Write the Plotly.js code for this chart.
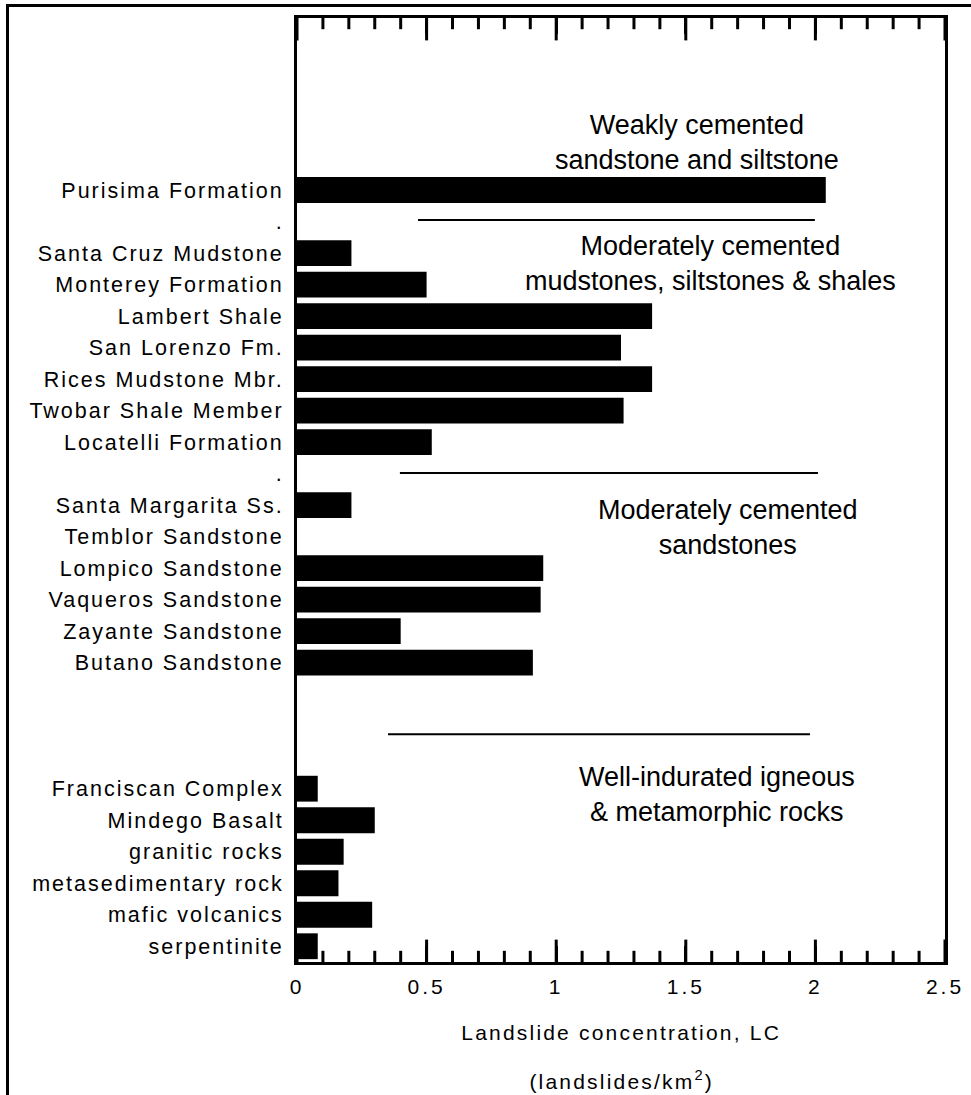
<!DOCTYPE html>
<html>
<head>
<meta charset="utf-8">
<script src="https://cdn.plot.ly/plotly-3.0.1.min.js"></script>
<style>
  html, body { margin: 0; padding: 0; background: #fff; overflow: hidden; }
  #wrap { position: relative; width: 971px; height: 1095px; }
  #frame { position: absolute; left: 6px; top: 4px; width: 1000px; height: 1200px;
           border-top: 3px solid #000; border-left: 3px solid #000; pointer-events: none; z-index: 5; }
  #chart { position: absolute; left: 0; top: 0; width: 971px; height: 1095px; }
  .ytick text { letter-spacing: 2px; }
  .xtick text { letter-spacing: 3px; }
  g.annotation[data-index="4"] text, g.annotation[data-index="5"] text { letter-spacing: 2.2px; }
</style>
</head>
<body>
<div id="wrap">
  <div id="frame"></div>
  <div id="chart"></div>
</div>
<script>
// Rock units, top to bottom (spacer rows included as in the original figure)
const categories = [
  "Purisima Formation",
  ".",
  "Santa Cruz Mudstone",
  "Monterey Formation",
  "Lambert Shale",
  "San Lorenzo Fm.",
  "Rices Mudstone Mbr.",
  "Twobar Shale Member",
  "Locatelli Formation",
  ".",
  "Santa Margarita Ss.",
  "Temblor Sandstone",
  "Lompico Sandstone",
  "Vaqueros Sandstone",
  "Zayante Sandstone",
  "Butano Sandstone",
  "",
  "",
  "",
  "Franciscan Complex",
  "Mindego Basalt",
  "granitic rocks",
  "metasedimentary rock",
  "mafic volcanics",
  "serpentinite"
];

// Landslide concentration, LC (landslides/km2)
const lcValues = [
  2.04,
  null,
  0.21,
  0.50,
  1.37,
  1.25,
  1.37,
  1.26,
  0.52,
  null,
  0.21,
  0,
  0.95,
  0.94,
  0.40,
  0.91,
  null,
  null,
  null,
  0.08,
  0.30,
  0.18,
  0.16,
  0.29,
  0.08
];

const xTickVals = [0, 0.5, 1, 1.5, 2, 2.5];
const xTickText = ["0", "0.5", "1", "1.5", "2", "2.5"];
const xMinorTickVals = [0.1, 0.2, 0.3, 0.4, 0.6, 0.7, 0.8, 0.9, 1.1, 1.2, 1.3, 1.4,
                        1.6, 1.7, 1.8, 1.9, 2.1, 2.2, 2.3, 2.4];

const groupLabels = [
  "Weakly cemented<br>sandstone and siltstone",
  "Moderately cemented<br>mudstones, siltstones & shales",
  "Moderately cemented<br>sandstones",
  "Well-indurated igneous<br>& metamorphic rocks"
];

const xTitle = "Landslide concentration, LC";
const xUnits = "(landslides/km<sup>2</sup>)";

const rowIndex = categories.map((_, i) => i);
const yRange = [24.5, -5.46];

const trace = {
  type: "bar",
  orientation: "h",
  x: lcValues,
  y: rowIndex,
  width: 0.82,
  marker: { color: "#000000", line: { width: 0 } },
  hoverinfo: "x+text",
  text: categories,
  textposition: "none"
};

// Tick marks on the bottom and top frame edges: vertical-line markers centred on
// each edge; the plot-area clipping keeps only the inner half (inward ticks).
function tickTrace(vals, size) {
  const xs = [], ys = [];
  vals.forEach(function (v) { xs.push(v, v); ys.push(yRange[0], yRange[1]); });
  return {
    type: "scatter", mode: "markers", x: xs, y: ys, cliponaxis: true,
    marker: { symbol: "line-ns", size: size, color: "#000", line: { color: "#000", width: 3 } },
    hoverinfo: "skip", showlegend: false
  };
}
const majorTicks = tickTrace(xTickVals, 32);
const minorTicks = tickTrace(xMinorTickVals, 16);

const annFont = { family: "Liberation Sans, Arial, sans-serif", size: 27, color: "#000" };
const axFont = { family: "Liberation Sans, Arial, sans-serif", size: 21, color: "#000" };
const titleFont = { family: "Liberation Sans, Arial, sans-serif", size: 21, color: "#000" };

const layout = {
  width: 971,
  height: 1095,
  margin: { l: 297, r: 26, t: 18, b: 133 },
  paper_bgcolor: "#ffffff",
  plot_bgcolor: "#ffffff",
  showlegend: false,
  xaxis: {
    range: [0, 2.5],
    tickmode: "array",
    tickvals: xTickVals,
    ticktext: xTickText,
    ticks: "inside",
    ticklen: 16,
    tickwidth: 3,
    tickcolor: "#000000",
    showline: true,
    linewidth: 3,
    linecolor: "#000",
    mirror: "allticks",
    showgrid: false,
    zeroline: false,
    tickfont: axFont,
    ticklabelstandoff: 4
  },
  yaxis: {
    range: yRange,
    tickmode: "array",
    tickvals: rowIndex,
    ticktext: categories,
    ticks: "",
    showline: true,
    linewidth: 3,
    linecolor: "#000",
    mirror: true,
    showgrid: false,
    zeroline: false,
    tickfont: { family: "Liberation Sans, Arial, sans-serif", size: 21.5, color: "#000" },
    ticklabelstandoff: 6
  },
  annotations: [
    { text: groupLabels[0], x: 1.543, y: -1.51, xref: "x", yref: "y", showarrow: false, font: annFont, align: "center", xanchor: "center", yanchor: "middle" },
    { text: groupLabels[1], x: 1.595, y: 2.32, xref: "x", yref: "y", showarrow: false, font: annFont, align: "center", xanchor: "center", yanchor: "middle" },
    { text: groupLabels[2], x: 1.663, y: 10.71, xref: "x", yref: "y", showarrow: false, font: annFont, align: "center", xanchor: "center", yanchor: "middle" },
    { text: groupLabels[3], x: 1.62, y: 19.17, xref: "x", yref: "y", showarrow: false, font: annFont, align: "center", xanchor: "center", yanchor: "middle" },
    { text: xTitle, x: 0.5, y: -0.0752, xref: "paper", yref: "paper", showarrow: false, font: titleFont, xanchor: "center", yanchor: "middle" },
    { text: xUnits, x: 0.5, y: -0.125, xref: "paper", yref: "paper", showarrow: false, font: titleFont, xanchor: "center", yanchor: "middle" }
  ],
  shapes: [
    { type: "line", xref: "x", yref: "y", x0: 0.467, x1: 1.998, y0: 0.95, y1: 0.95, line: { color: "#000", width: 2 } },
    { type: "line", xref: "x", yref: "y", x0: 0.397, x1: 2.01, y0: 8.98, y1: 8.98, line: { color: "#000", width: 2 } },
    { type: "line", xref: "x", yref: "y", x0: 0.351, x1: 1.979, y0: 17.27, y1: 17.27, line: { color: "#000", width: 2 } }
  ]
};

Plotly.newPlot("chart", [trace, majorTicks, minorTicks], layout, { displayModeBar: false });
</script>
</body>
</html>
